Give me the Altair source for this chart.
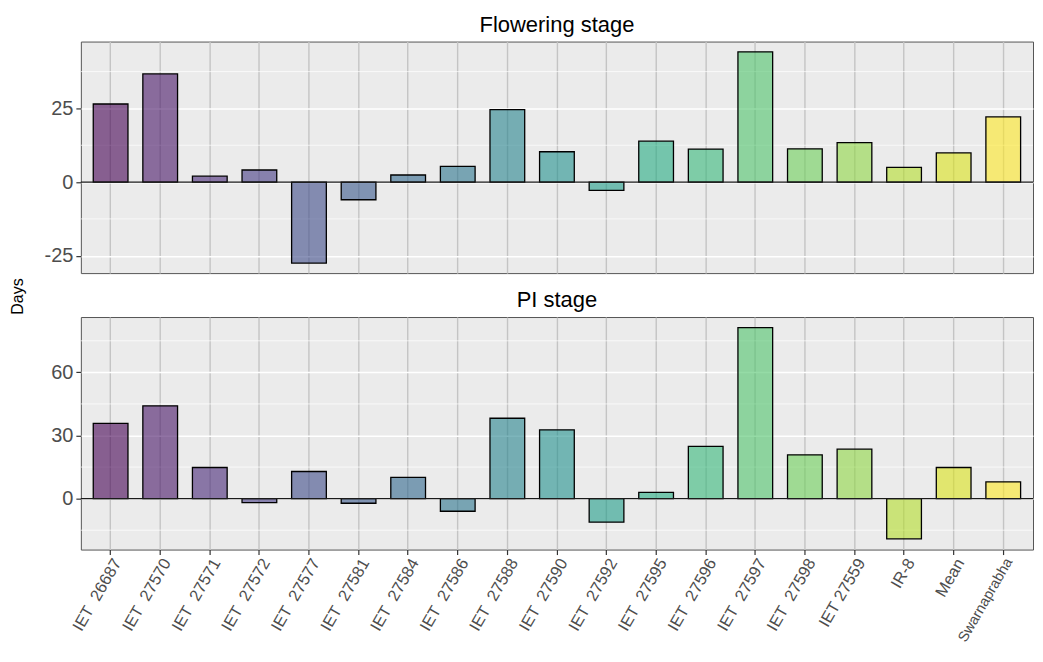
import altair as alt
import pandas as pd

NB = "\u00a0"
categories = [
    "IET" + NB * 2 + "26687", "IET" + NB * 2 + "27570", "IET" + NB * 2 + "27571",
    "IET" + NB * 2 + "27572", "IET" + NB * 2 + "27577", "IET" + NB * 2 + "27581",
    "IET" + NB * 2 + "27584", "IET" + NB * 2 + "27586", "IET" + NB * 2 + "27588",
    "IET" + NB * 2 + "27590", "IET" + NB * 2 + "27592", "IET" + NB * 2 + "27595",
    "IET" + NB * 2 + "27596", "IET" + NB * 2 + "27597", "IET" + NB * 2 + "27598",
    "IET" + NB + "27559", "IR-8", "Mean", "Swarnaprabha",
]

flowering = [26.5, 36.7, 2.0, 4.1, -27.5, -6.0, 2.4, 5.3, 24.6, 10.3,
             -2.8, 13.9, 11.2, 44.2, 11.3, 13.4, 5.0, 9.9, 22.1]
pi_stage = [35.8, 44.1, 14.8, -1.9, 12.9, -2.2, 10.1, -6.0, 38.2, 32.7,
            -11.2, 3.0, 24.8, 81.3, 20.8, 23.5, -19.1, 14.8, 8.0]

flow_ticks = [-25, 0, 25]
flow_minor = [-12.5, 12.5, 37.5]
flow_domain = [-30.9, 47.7]

pi_ticks = [0, 30, 60]
pi_minor = [-15, 15, 45, 75]
pi_domain = [-24.2, 86.3]

FONT = "Liberation Sans"
W = 954
H_TOP = 232
H_BOT = 233

n = len(categories)
ext = (n + 1) / (n - 1)
scheme_extent = [-ext / (n + 1), -ext / (n + 1) + ext]


def panel(values, title, domain, ticks, minor, show_x, y_title, height):
    df = pd.DataFrame({"cat": categories, "value": values})
    minor_df = pd.DataFrame({"value": minor})
    zero_df = pd.DataFrame({"value": [0]})

    xaxis = alt.Axis(
        title=None, grid=True, gridColor="#c4c4c4", gridWidth=1.4,
        domain=False,
        labels=show_x, ticks=show_x, tickColor="#333333", tickSize=5, tickWidth=1.2,
        labelAngle=-60, labelAlign="right", labelBaseline="top",
        labelFontSize={"condition": {"test": "datum.label == 'Swarnaprabha'", "value": 14.5},
                       "value": 16.5},
        labelColor="#4d4d4d", labelPadding=1,
    )
    x = alt.X("cat:N", sort=categories,
              scale=alt.Scale(domain=categories, paddingInner=0.3, paddingOuter=0.25),
              axis=xaxis)

    yaxis_kwargs = dict(
        values=ticks, grid=True, gridColor="white", gridWidth=1.5,
        domain=False, tickColor="#333333", tickSize=5, tickWidth=1.2,
        labelFontSize=20, labelColor="#4d4d4d", labelPadding=3,
        labelExpr="datum.value + ''",
    )
    if y_title:
        yaxis_kwargs.update(title="Days", titleX=-63, titleY=255, titleAngle=-90,
                            titleAlign="center", titleBaseline="middle",
                            titleFontSize=16, titleFontWeight="normal",
                            titleColor="black", titleFont=FONT)
    else:
        yaxis_kwargs.update(title=None)
    y = alt.Y("value:Q", scale=alt.Scale(domain=domain, nice=False, zero=False),
              axis=alt.Axis(**yaxis_kwargs))

    minor_rules = alt.Chart(minor_df).mark_rule(color="white", strokeWidth=0.7).encode(
        y=alt.Y("value:Q"))
    bars = alt.Chart(df).mark_bar(stroke="black", strokeWidth=1.3, fillOpacity=0.6).encode(
        x=x, y=y,
        color=alt.Color("cat:N", sort=categories,
                        scale=alt.Scale(scheme=alt.SchemeParams(name="viridis", extent=scheme_extent),
                                        domain=categories),
                        legend=None),
    )
    zero = alt.Chart(zero_df).mark_rule(color="#1a1a1a", strokeWidth=1.4).encode(
        y=alt.Y("value:Q"))

    return alt.layer(minor_rules, bars, zero).properties(
        width=W, height=height,
        title=alt.Title(title, fontSize=22, font=FONT, fontWeight="normal",
                        color="black", anchor="middle", offset=5),
    )


top = panel(flowering, "Flowering stage", flow_domain, flow_ticks, flow_minor, False, True, H_TOP)
bottom = panel(pi_stage, "PI stage", pi_domain, pi_ticks, pi_minor, True, False, H_BOT)

chart = alt.vconcat(top, bottom, spacing=44, bounds="flush").resolve_scale(
    x="independent", y="independent", color="shared"
).properties(
    padding={"left": 1, "top": 4, "right": 0, "bottom": 1},
    background="white",
).configure_view(
    fill="#ebebeb", stroke="#555555", strokeWidth=1,
).configure_axis(
    labelFont=FONT, titleFont=FONT,
).configure_title(font=FONT)

chart.save("out.html", embed_options={"renderer": "svg", "actions": False})
